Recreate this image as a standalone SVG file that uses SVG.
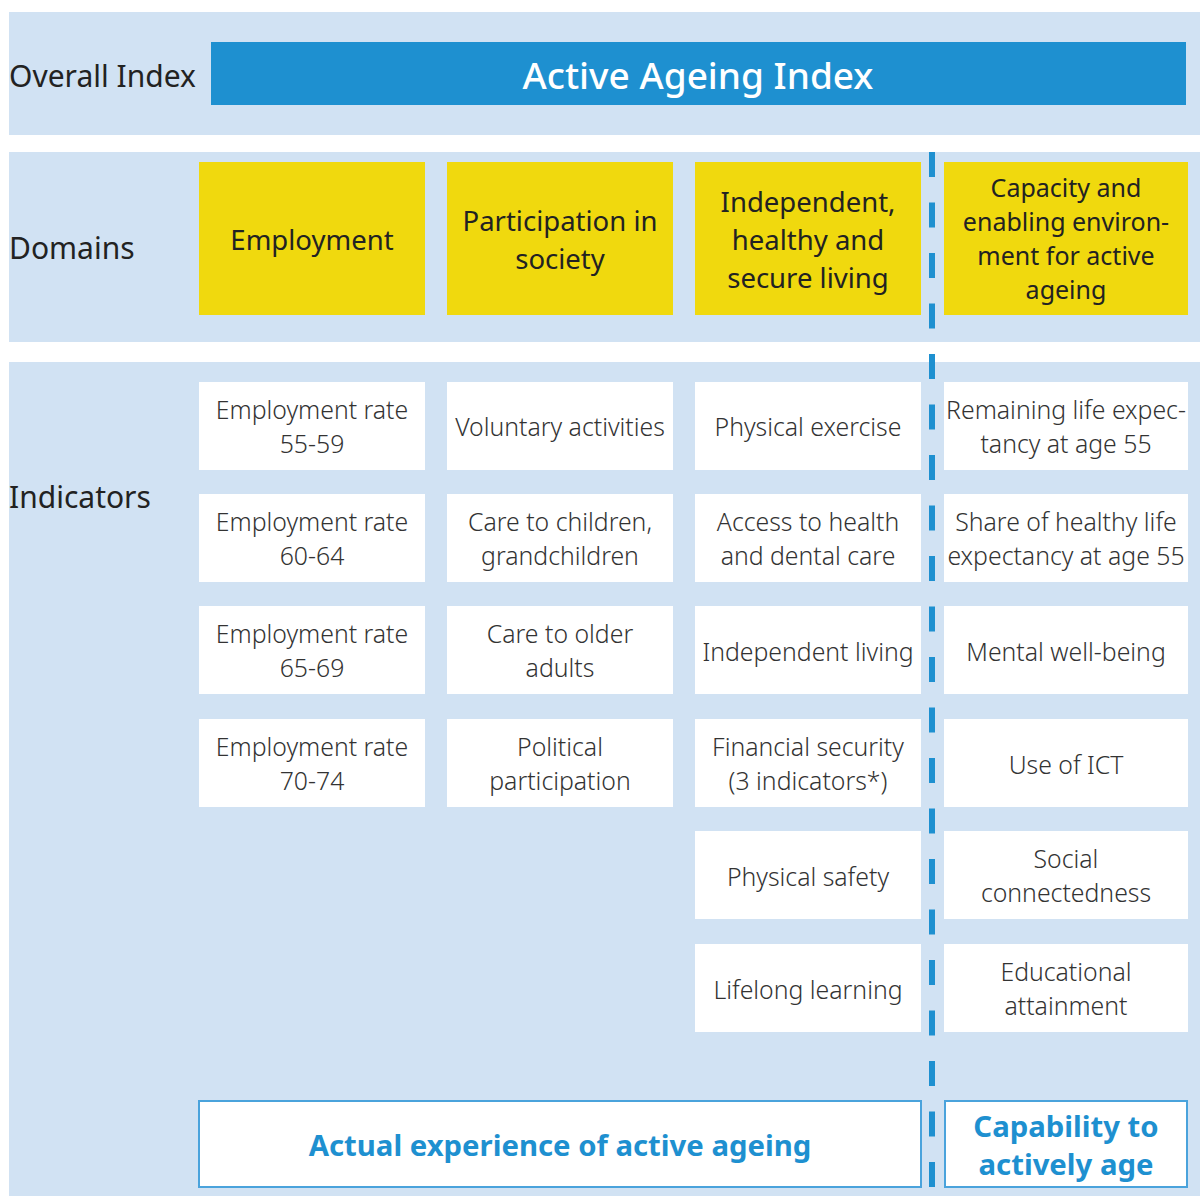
<svg xmlns="http://www.w3.org/2000/svg" width="1200" height="1196" viewBox="0 0 1200 1196">
<style>
.band{fill:#d1e2f3}
.dom{fill:#f0d90e}
.ind{fill:#ffffff}
.lbl{font-family:"Noto Sans","Open Sans",sans-serif;font-size:30px;fill:#222}
.dt{font-family:"Noto Sans","Open Sans",sans-serif;font-size:27.5px;fill:#222;text-anchor:middle}
.dt4{font-family:"Noto Sans","Open Sans",sans-serif;font-size:25px;fill:#222;text-anchor:middle}
.it{font-family:"Noto Sans","Open Sans",sans-serif;font-size:24.8px;fill:#333;text-anchor:middle;font-weight:300}
.bt{font-family:"Noto Sans","Open Sans",sans-serif;font-size:29.3px;fill:#1e90d0;text-anchor:middle;font-weight:bold}
.bx{fill:#fff;stroke:#4aa3dc;stroke-width:2}
</style>
<rect width="1200" height="1196" fill="#fff"/>
<g id="bands">
<rect class="band" x="9" y="12" width="1191" height="123"/>
<rect class="band" x="9" y="152" width="1191" height="190"/>
<rect class="band" x="9" y="362" width="1191" height="834"/>
</g>
<g id="row-labels">
<text class="lbl" x="9" y="87">Overall Index</text>
<text class="lbl" x="9" y="259">Domains</text>
<text class="lbl" x="9" y="508">Indicators</text>
</g>
<g id="index">
<rect x="211" y="42" width="975" height="63" fill="#1e90d0"/>
<text x="698" y="89" font-family="Noto Sans, Open Sans, sans-serif" font-size="37" font-weight="500" fill="#fff" text-anchor="middle">Active Ageing Index</text>
</g>
<g id="connectors">
<line x1="932" y1="152" x2="932" y2="1190" stroke="#1e90d0" stroke-width="6" stroke-dasharray="25 25.5"/>
</g>
<g id="domain-employment">
<rect class="dom" x="199" y="162" width="226" height="153"/>
<text class="dt" x="312" y="250">Employment</text>
</g>
<g id="domain-participation">
<rect class="dom" x="447" y="162" width="226" height="153"/>
<text class="dt" x="560" y="231">Participation in</text>
<text class="dt" x="560" y="269">society</text>
</g>
<g id="domain-independent">
<rect class="dom" x="695" y="162" width="226" height="153"/>
<text class="dt" x="808" y="212">Independent,</text>
<text class="dt" x="808" y="250">healthy and</text>
<text class="dt" x="808" y="288">secure living</text>
</g>
<g id="domain-capacity">
<rect class="dom" x="944" y="162" width="244" height="153"/>
<text class="dt4" x="1066" y="197">Capacity and</text>
<text class="dt4" x="1066" y="231">enabling environ-</text>
<text class="dt4" x="1066" y="265">ment for active</text>
<text class="dt4" x="1066" y="299">ageing</text>
</g>
<g id="ind-emp1"><rect class="ind" x="199" y="382" width="226" height="88"/><text class="it" x="312" y="419">Employment rate</text><text class="it" x="312" y="453">55-59</text></g>
<g id="ind-emp2"><rect class="ind" x="199" y="494" width="226" height="88"/><text class="it" x="312" y="531">Employment rate</text><text class="it" x="312" y="565">60-64</text></g>
<g id="ind-emp3"><rect class="ind" x="199" y="606" width="226" height="88"/><text class="it" x="312" y="643">Employment rate</text><text class="it" x="312" y="677">65-69</text></g>
<g id="ind-emp4"><rect class="ind" x="199" y="719" width="226" height="88"/><text class="it" x="312" y="756">Employment rate</text><text class="it" x="312" y="790">70-74</text></g>
<g id="ind-par1"><rect class="ind" x="447" y="382" width="226" height="88"/><text class="it" x="560" y="436">Voluntary activities</text></g>
<g id="ind-par2"><rect class="ind" x="447" y="494" width="226" height="88"/><text class="it" x="560" y="531">Care to children,</text><text class="it" x="560" y="565">grandchildren</text></g>
<g id="ind-par3"><rect class="ind" x="447" y="606" width="226" height="88"/><text class="it" x="560" y="643">Care to older</text><text class="it" x="560" y="677">adults</text></g>
<g id="ind-par4"><rect class="ind" x="447" y="719" width="226" height="88"/><text class="it" x="560" y="756">Political</text><text class="it" x="560" y="790">participation</text></g>
<g id="ind-ind1"><rect class="ind" x="695" y="382" width="226" height="88"/><text class="it" x="808" y="436">Physical exercise</text></g>
<g id="ind-ind2"><rect class="ind" x="695" y="494" width="226" height="88"/><text class="it" x="808" y="531">Access to health</text><text class="it" x="808" y="565">and dental care</text></g>
<g id="ind-ind3"><rect class="ind" x="695" y="606" width="226" height="88"/><text class="it" x="808" y="661">Independent living</text></g>
<g id="ind-ind4"><rect class="ind" x="695" y="719" width="226" height="88"/><text class="it" x="808" y="756">Financial security</text><text class="it" x="808" y="790">(3 indicators*)</text></g>
<g id="ind-ind5"><rect class="ind" x="695" y="831" width="226" height="88"/><text class="it" x="808" y="886">Physical safety</text></g>
<g id="ind-ind6"><rect class="ind" x="695" y="944" width="226" height="88"/><text class="it" x="808" y="999">Lifelong learning</text></g>
<g id="ind-cap1"><rect class="ind" x="944" y="382" width="244" height="88"/><text class="it" x="1066" y="419">Remaining life expec-</text><text class="it" x="1066" y="453">tancy at age 55</text></g>
<g id="ind-cap2"><rect class="ind" x="944" y="494" width="244" height="88"/><text class="it" x="1066" y="531">Share of healthy life</text><text class="it" x="1066" y="565">expectancy at age 55</text></g>
<g id="ind-cap3"><rect class="ind" x="944" y="606" width="244" height="88"/><text class="it" x="1066" y="661">Mental well-being</text></g>
<g id="ind-cap4"><rect class="ind" x="944" y="719" width="244" height="88"/><text class="it" x="1066" y="774">Use of ICT</text></g>
<g id="ind-cap5"><rect class="ind" x="944" y="831" width="244" height="88"/><text class="it" x="1066" y="868">Social</text><text class="it" x="1066" y="902">connectedness</text></g>
<g id="ind-cap6"><rect class="ind" x="944" y="944" width="244" height="88"/><text class="it" x="1066" y="981">Educational</text><text class="it" x="1066" y="1015">attainment</text></g>
<g id="actual"><rect class="bx" x="199" y="1101" width="722" height="86"/><text class="bt" x="560" y="1156">Actual experience of active ageing</text></g>
<g id="capability"><rect class="bx" x="945" y="1101" width="242" height="86"/><text class="bt" x="1066" y="1137">Capability to</text><text class="bt" x="1066" y="1175">actively age</text></g>
</svg>
